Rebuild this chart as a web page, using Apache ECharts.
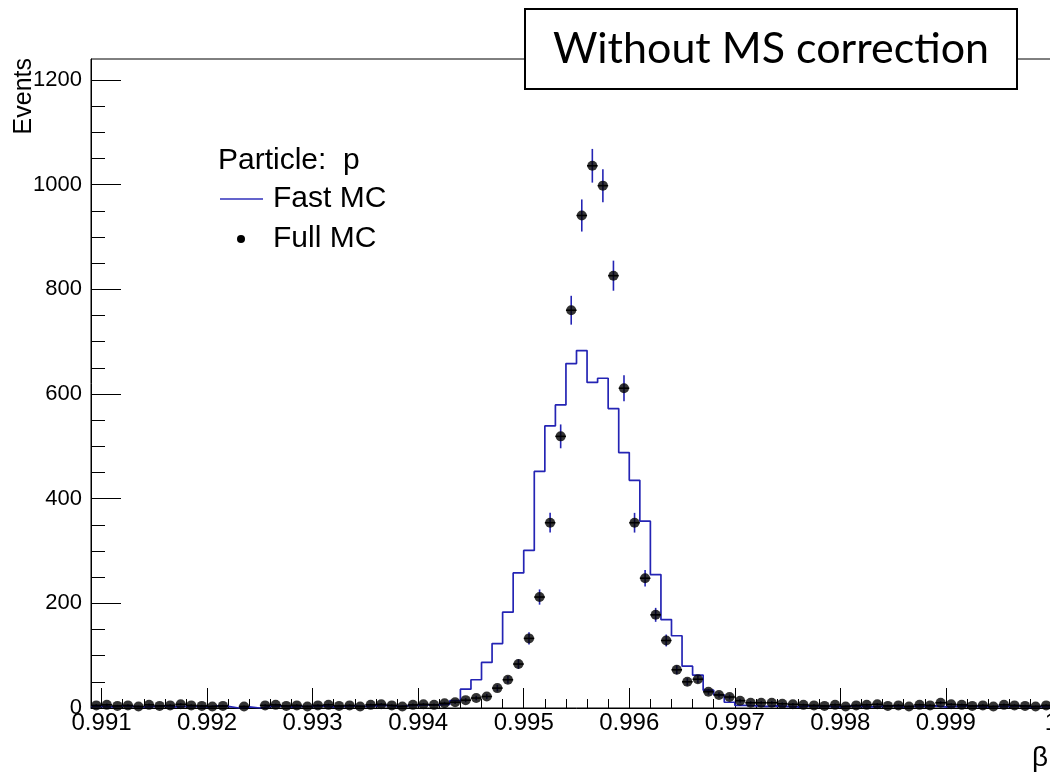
<!DOCTYPE html>
<html>
<head>
<meta charset="utf-8">
<script src="https://cdn.jsdelivr.net/npm/echarts@6/dist/echarts.min.js"></script>
<style>html,body{margin:0;padding:0;background:#fff;overflow:hidden;width:1050px;height:779px;}#c{width:1080px;height:779px;}</style>
</head>
<body>
<div id="c"></div>
<script>
// ---- data ----
const binStart = 0.9909;      // lower edge of first bin
const binWidth = 0.0001;      // bin width in beta
// Full MC (points) per bin, 92 bins from 0.9909 to 1.0001 (0 = empty bin)
const fullMC = [
  5,6,4,5,3,6,4,5,7,5,
  4,3,4,0,3,0,5,6,4,5,
  3,5,6,4,5,3,6,7,5,3,
  6,7,6,9,11,15,19,22,38,54,
  84,133,212,354,519,760,941,1036,998,826,
  611,354,248,178,129,73,50,55,31,25,
  21,14,10,10,10,8,7,6,5,4,
  6,3,5,6,7,4,5,3,6,5,
  10,7,6,4,5,3,6,5,4,3,
  5,4
];
// Fast MC (histogram) per bin
const fastMC = [
  3,2,4,3,2,3,4,2,3,3,
  2,4,3,0,2,0,3,4,2,3,
  3,4,2,3,4,3,4,5,3,4,
  5,6,6,7,14,36,54,87,123,183,
  258,301,452,539,579,658,683,622,630,572,
  488,435,357,255,169,138,80,63,34,25,
  11,5,4,3,4,3,2,4,3,3,
  2,4,3,2,3,4,2,3,3,4,
  2,3,4,3,2,3,3,4,2,3,
  2,3
];
const xTickValues = [0.991,0.992,0.993,0.994,0.995,0.996,0.997,0.998,0.999,1.0];
const xTickLabels = ['0.991','0.992','0.993','0.994','0.995','0.996','0.997','0.998','0.999','1'];
const yTickValues = [0,200,400,600,800,1000,1200];
const yTickLabels = ['0','200','400','600','800','1000','1200'];
const xRange = [0.9909, 1.0001];
const yRange = [0, 1240];

// ---- derived ----
const nBins = fullMC.length;
const edge = i => +(binStart + i * binWidth).toFixed(5);
const center = i => +(binStart + (i + 0.5) * binWidth).toFixed(5);
const histData = [];
for (let i = 0; i < nBins; i++) histData.push([edge(i), fastMC[i]]);
histData.push([edge(nBins), fastMC[nBins - 1]]);
const pointData = [];
for (let i = 0; i < nBins; i++) if (fullMC[i] > 0) pointData.push([center(i), fullMC[i]]);
const xMinor = [];
for (let k = 0; k <= 45; k++) { const v = +(0.991 + k * 0.0002).toFixed(4); if (k % 5 !== 0 && v < xRange[1]) xMinor.push(v); }
const yMinor = [];
for (let v = 50; v < yRange[1]; v += 50) if (v % 200 !== 0) yMinor.push(v);

const blue = '#2424b4';
const FONT = '"Liberation Sans", Arial, Helvetica, sans-serif';

const chart = echarts.init(document.getElementById('c'), null, {renderer: 'canvas'});
chart.setOption({
  animation: false,
  backgroundColor: '#fff',
  grid: {left: 91, top: 59, width: 971, height: 649, show: true, borderColor: '#000', borderWidth: 1, backgroundColor: 'transparent'},
  xAxis: [{
    type: 'value', min: xRange[0], max: xRange[1],
    axisLine: {show: true, onZero: false, lineStyle: {color: '#000', width: 1}},
    axisTick: {show: true, inside: true, length: 20, customValues: xTickValues, lineStyle: {color: '#000', width: 1}},
    axisLabel: {show: true, customValues: xTickValues, margin: 3, color: '#000', fontSize: 24, fontFamily: FONT,
      formatter: v => { const i = xTickValues.findIndex(t => Math.abs(t - v) < 1e-9); return i >= 0 ? xTickLabels[i] : ''; }},
    splitLine: {show: false}
  }, {
    type: 'value', min: xRange[0], max: xRange[1], position: 'bottom',
    axisLine: {show: false}, axisLabel: {show: false}, splitLine: {show: false},
    axisTick: {show: true, inside: true, length: 9, customValues: xMinor, lineStyle: {color: '#000', width: 1}}
  }],
  yAxis: [{
    type: 'value', min: yRange[0], max: yRange[1],
    axisLine: {show: true, onZero: false, lineStyle: {color: '#000', width: 1}},
    axisTick: {show: true, inside: true, length: 30, customValues: yTickValues, lineStyle: {color: '#000', width: 1}},
    axisLabel: {show: true, customValues: yTickValues, margin: 9, color: '#000', fontSize: 22, fontFamily: FONT,
      formatter: v => { const i = yTickValues.indexOf(v); return i >= 0 ? yTickLabels[i] : ''; }},
    splitLine: {show: false}
  }, {
    type: 'value', min: yRange[0], max: yRange[1], position: 'left',
    axisLine: {show: false}, axisLabel: {show: false}, splitLine: {show: false},
    axisTick: {show: true, inside: true, length: 14, customValues: yMinor, lineStyle: {color: '#000', width: 1}}
  }],
  series: [{
    name: 'Fast MC', type: 'line', step: 'end', data: histData, showSymbol: false, symbol: 'none',
    lineStyle: {color: blue, width: 1.7}, z: 2, clip: true
  }, {
    name: 'Full MC errors', type: 'custom', data: pointData, z: 3, clip: true,
    renderItem: (params, api) => {
      const x = api.value(0), v = api.value(1), e = Math.sqrt(v);
      const a = api.coord([x, v - e]), b = api.coord([x, v + e]);
      const l = api.coord([x - binWidth / 2, v]), r = api.coord([x + binWidth / 2, v]);
      return {type: 'group', children: [
        {type: 'line', shape: {x1: a[0], y1: a[1], x2: b[0], y2: b[1]}, style: {stroke: blue, lineWidth: 1.6}},
        {type: 'line', shape: {x1: l[0], y1: l[1], x2: r[0], y2: r[1]}, style: {stroke: '#000', lineWidth: 1.6}}
      ]};
    }
  }, {
    name: 'Full MC', type: 'scatter', data: pointData, symbol: 'circle', symbolSize: 10,
    itemStyle: {color: '#000'}, z: 4, clip: true
  }],
  graphic: [
    {type: 'text', x: 24, y: 58, rotation: Math.PI / 2,
      style: {text: 'Events', fontSize: 25, fontFamily: FONT, fill: '#000', align: 'right', verticalAlign: 'middle'}},
    {type: 'text', x: 1040, y: 758,
      style: {text: 'β', fontSize: 28, fontFamily: FONT, fill: '#000', align: 'center', verticalAlign: 'middle'}},
    {type: 'text', x: 218, y: 161,
      style: {text: 'Particle:  p', fontSize: 30, fontFamily: FONT, fill: '#000', align: 'left', verticalAlign: 'middle'}},
    {type: 'line', shape: {x1: 220, y1: 199, x2: 263, y2: 199}, style: {stroke: '#3030bb', lineWidth: 1.5}},
    {type: 'text', x: 273, y: 199,
      style: {text: 'Fast MC', fontSize: 30, fontFamily: FONT, fill: '#000', align: 'left', verticalAlign: 'middle'}},
    {type: 'circle', shape: {cx: 241, cy: 239, r: 4}, style: {fill: '#000'}},
    {type: 'text', x: 273, y: 239,
      style: {text: 'Full MC', fontSize: 30, fontFamily: FONT, fill: '#000', align: 'left', verticalAlign: 'middle'}},
    {type: 'rect', shape: {x: 525, y: 9, width: 492, height: 80}, style: {fill: '#fff', stroke: '#000', lineWidth: 2}, z: 100},
    {type: 'text', x: 771, y: 49, z: 101,
      style: {text: 'Without MS correction', fontSize: 43, fontFamily: 'Lato, "Open Sans", sans-serif', fill: '#000', align: 'center', verticalAlign: 'middle'}}
  ]
});
</script>
</body>
</html>
